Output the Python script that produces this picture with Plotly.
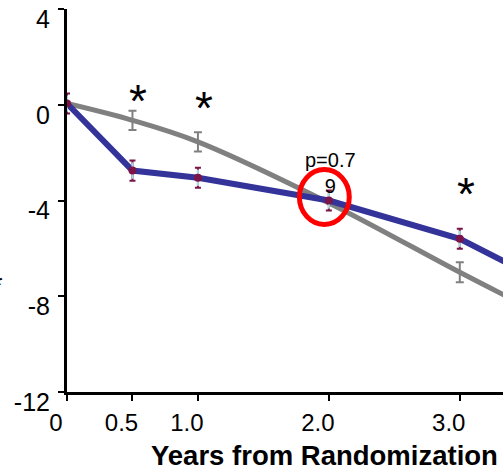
import plotly.graph_objects as go

# ---- data ----
years_blue = [0, 0.5, 1.0, 2.0, 3.0, 3.5]
change_blue = [0.05, -2.75, -3.05, -4.0, -5.6, -7.0]
err_blue = [0.42, 0.42, 0.42, 0.42, 0.42, 0.42]

years_gray = [0, 0.5, 1.0, 2.0, 3.0, 3.5]
change_gray = [0.05, -0.65, -1.55, -4.1, -7.0, -8.4]

years_gray_err = [0.5, 1.0, 3.0]
change_gray_err = [-0.65, -1.55, -7.0]
err_gray = [0.4, 0.4, 0.42]

x_ticks = [0, 0.5, 1.0, 2.0, 3.0]
x_tick_labels = ["0", "0.5", "1.0", "2.0", "3.0"]
y_ticks = [4, 0, -4, -8, -12]
y_tick_labels = ["4", "0", "-4", "-8", "-12"]

star_x = [0.54, 1.05, 3.05]
star_y = [0.42, 0.12, -3.46]

p_text = "p=0.7<br>9"

BLUE = "#333399"
MAROON = "#7B1448"
STEM = "#a9dbe3"
GRAY = "#808080"

fig = go.Figure()

# gray smooth curve
fig.add_trace(go.Scatter(
    x=years_gray, y=change_gray, mode="lines",
    line=dict(color=GRAY, width=5, shape="spline", smoothing=1.0),
    hoverinfo="skip", showlegend=False))
# gray error bars
fig.add_trace(go.Scatter(
    x=years_gray_err, y=change_gray_err, mode="markers",
    marker=dict(size=1, color="rgba(0,0,0,0)"),
    error_y=dict(type="data", array=err_gray, color=GRAY, thickness=2, width=4),
    showlegend=False))
# blue line
fig.add_trace(go.Scatter(
    x=years_blue, y=change_blue, mode="lines",
    line=dict(color=BLUE, width=6),
    showlegend=False))
# blue error bars (maroon caps + light stem)
fig.add_trace(go.Scatter(
    x=years_blue, y=change_blue, mode="markers",
    marker=dict(size=1, color="rgba(0,0,0,0)"),
    error_y=dict(type="data", array=err_blue, color=MAROON, thickness=2, width=3),
    showlegend=False))
fig.add_trace(go.Scatter(
    x=years_blue, y=change_blue, mode="markers",
    marker=dict(size=8, color=MAROON),
    error_y=dict(type="data", array=[e - 0.08 for e in err_blue], color=STEM, thickness=2, width=0),
    showlegend=False))

annotations = []
for sx, sy in zip(star_x, star_y):
    annotations.append(dict(x=sx, y=sy, xref="x", yref="y", text="*",
                            showarrow=False, yshift=-6,
                            font=dict(family="Liberation Sans, Arial", size=46, color="black")))
annotations.append(dict(x=2.01, y=-2.85, xref="x", yref="y", text=p_text,
                        showarrow=False, align="center",
                        font=dict(family="Liberation Sans, Arial", size=20, color="black")))
annotations.append(dict(x=0.625, y=-0.165, xref="x", yref="paper", text="<b>Years from Randomization</b>",
                        showarrow=False, xanchor="left", yanchor="middle",
                        font=dict(family="Liberation Sans, Arial", size=27.5, color="black")))
annotations.append(dict(x=-70 / 436, y=-7.5, xref="paper", yref="y", text="*",
                        showarrow=False, xanchor="center",
                        font=dict(family="Liberation Sans, Arial", size=30, color="black")))

fig.update_layout(
    width=503, height=469,
    margin=dict(l=67, r=0, t=9, b=77, autoexpand=False),
    paper_bgcolor="white", plot_bgcolor="white",
    font=dict(family="Liberation Sans, Arial", color="black"),
    annotations=annotations,
    shapes=[dict(type="circle", xref="x", yref="y",
                 x0=1.775, x1=2.156, y0=-5.0, y1=-2.71,
                 line=dict(color="#ff0000", width=5))],
    xaxis=dict(range=[0, 3.33], tickvals=x_ticks, ticktext=x_tick_labels,
               showline=True, linecolor="black", linewidth=3,
               ticks="outside", ticklen=6, tickwidth=2, tickcolor="black",
               showgrid=False, zeroline=False, automargin=False,
               tickfont=dict(size=24, color="black"),
               ticklabeloverflow="allow",
               ticklabelshift=-11, ticklabelstandoff=1),
    yaxis=dict(range=[-12, 4], tickvals=y_ticks, ticktext=y_tick_labels,
               showline=True, linecolor="black", linewidth=3,
               ticks="outside", ticklen=6, tickwidth=2, tickcolor="black",
               showgrid=False, zeroline=False, automargin=False,
               tickfont=dict(size=25, color="black"),
               ticklabeloverflow="allow",
               ticklabelshift=10, ticklabelstandoff=3),
)

fig.write_html(
    "out.html",
    config={"displayModeBar": False},
    post_script="document.body.style.margin='0px';document.body.style.overflow='hidden';",
)
